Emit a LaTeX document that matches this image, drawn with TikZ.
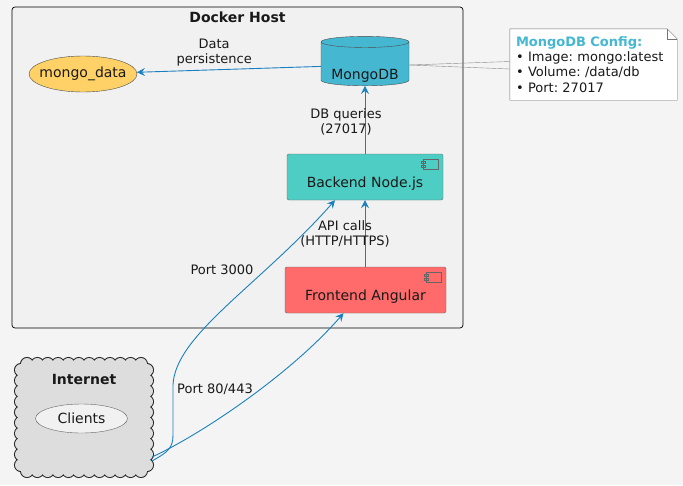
\documentclass[tikz,border=0pt]{standalone}
\usepackage{fontspec}
\setmainfont{DejaVu Sans}
\usetikzlibrary{positioning,shapes.geometric,arrows.meta}

\definecolor{bgcol}{HTML}{F4F4F4}
\definecolor{hostcol}{HTML}{F1F1F1}
\definecolor{datacol}{HTML}{FFD166}
\definecolor{mongoblue}{HTML}{45B7D1}
\definecolor{backcol}{HTML}{4ECDC4}
\definecolor{frontcol}{HTML}{FF6B6B}
\definecolor{cloudcol}{HTML}{DDDDDD}
\definecolor{arrowblue}{HTML}{1B80C0}

\begin{document}
\frenchspacing
\begin{tikzpicture}[
		x=1pt, y=-1pt,
		every node/.style={font=\fontsize{14}{16}\selectfont, text=black!90},
		lbl/.style={font=\fontsize{13}{15}\selectfont, align=center},
		titletext/.style={font=\fontsize{14}{16}\selectfont\bfseries},
		hostbox/.style={rectangle, rounded corners=3pt, draw=black, line width=0.7pt, fill=hostcol, minimum width=451, minimum height=321},
		volume/.style={ellipse, draw=black!70, fill=datacol, inner xsep=-10pt, inner ysep=0pt, minimum width=108, minimum height=36},
		dbcyl/.style={cylinder, shape border rotate=90, aspect=0.15, draw=black!70, fill=mongoblue, minimum width=88, minimum height=45, text height=28pt, text depth=0pt},
		comp/.style={rectangle, rounded corners=2pt, draw=black!60, minimum height=46, text height=20pt, text depth=0pt},
		usecase/.style={ellipse, draw=black!60, fill=hostcol, minimum width=92, minimum height=29},
		note/.style={rectangle, fill=white, align=left, text width=155pt, inner xsep=6pt, minimum height=71, font=\fontsize{13}{15.3}\selectfont},
		arrow/.style={-{Stealth[length=8pt, width=8pt, inset=3pt]}, draw=arrowblue, line width=0.9pt},
		compicon/.pic={
			\draw[black!60, fill=none] (-20,5) rectangle (-5,15);
			\draw[black!60, fill=none] (-22,7) rectangle (-18,9);
			\draw[black!60, fill=none] (-22,11) rectangle (-18,13);
		}
	]

	\path[use as bounding box, fill=bgcol] (0,0) rectangle (683,485);

	% Nodes
	\node[hostbox] (host) at (237.5,167.5) {};
	\node[titletext, below=2pt of host.north] (hosttitle) {Docker Host};

	\node[volume] (mongodata) at (83,74) {mongo\_data};
	\node[dbcyl] (mongo) at (365,65) {MongoDB};
	\node[comp, fill=backcol, minimum width=156] (backend) at (365,177) {Backend Node.js};
	\node[comp, fill=frontcol, minimum width=161] (frontend) at (365.5,290) {Frontend Angular};
	\pic at (backend.north east) {compicon};
	\pic at (frontend.north east) {compicon};

	% cloud outline
	\draw[black!85, line width=2pt]
		\foreach \i in {0,...,11} {(27+\i*10.36,364) circle (6) (27+\i*10.36,471) circle (6)}
		\foreach \j in {0,...,9} {(21,370+\j*10.56) circle (6) (147,370+\j*10.56) circle (6)};
	\fill[cloudcol]
		\foreach \i in {0,...,11} {(27+\i*10.36,364) circle (6) (27+\i*10.36,471) circle (6)}
		\foreach \j in {0,...,9} {(21,370+\j*10.56) circle (6) (147,370+\j*10.56) circle (6)};
	\fill[cloudcol] (21,364) rectangle (147,471);
	\node[minimum width=138, minimum height=119] (internet) at (84,417.5) {};
	\node[titletext, below=13pt of internet.north] (nettitle) {Internet};
	\node[usecase] (clients) at (81.5,418.5) {Clients};

	\node[note] (cfg) at (593.5,64.5) {{\color{mongoblue}\bfseries MongoDB Config:}\\
		• Image: mongo:latest\\
		• Volume: /data/db\\
		• Port: 27017};
	\fill[bgcol] ([xshift=-10pt]cfg.north east) -- (cfg.north east) -- ([yshift=-10pt]cfg.north east) -- cycle;
	\draw[black!55] (cfg.north west) -- ([xshift=-10pt]cfg.north east) -- ([yshift=-10pt]cfg.north east) -- (cfg.south east) -- (cfg.south west) -- cycle;
	\draw[black!55] ([xshift=-10pt]cfg.north east) -- ([xshift=-10pt,yshift=-10pt]cfg.north east) -- ([yshift=-10pt]cfg.north east);
	\draw[black!45] (mongo.east) -- ([yshift=3pt]cfg.west);
	\draw[black!45] (mongo.east) -- ([yshift=-4.5pt]cfg.west);

	\coordinate (inA) at (152,461);
	\coordinate (inB) at (152,457);

	% Arrows
	\draw[arrow] (mongo) -- (mongodata) node[lbl, pos=0.58, above=0pt] {Data\\persistence};
	\draw[arrow] (backend) -- (mongo) node[lbl, midway, xshift=-19pt, yshift=-2pt] {DB queries\\(27017)};
	\draw[arrow] (frontend.north -| backend) -- (backend) node[lbl, midway, xshift=-20pt] {API calls\\(HTTP/HTTPS)};

	\draw[arrow] (inA) .. controls (168,452) and (173,448) .. (173,435) -- (173,385)
		.. controls (175,335) and (260,285) .. ([xshift=-30pt]backend.south);
	\draw[arrow] (inB) .. controls (200,435) and (290,375) .. ([xshift=-22pt]frontend.south);
	\node[lbl] (port3000) at (222,270) {Port 3000};
	\node[lbl] (port80) at (215,389) {Port 80/443};

\end{tikzpicture}
\end{document}
